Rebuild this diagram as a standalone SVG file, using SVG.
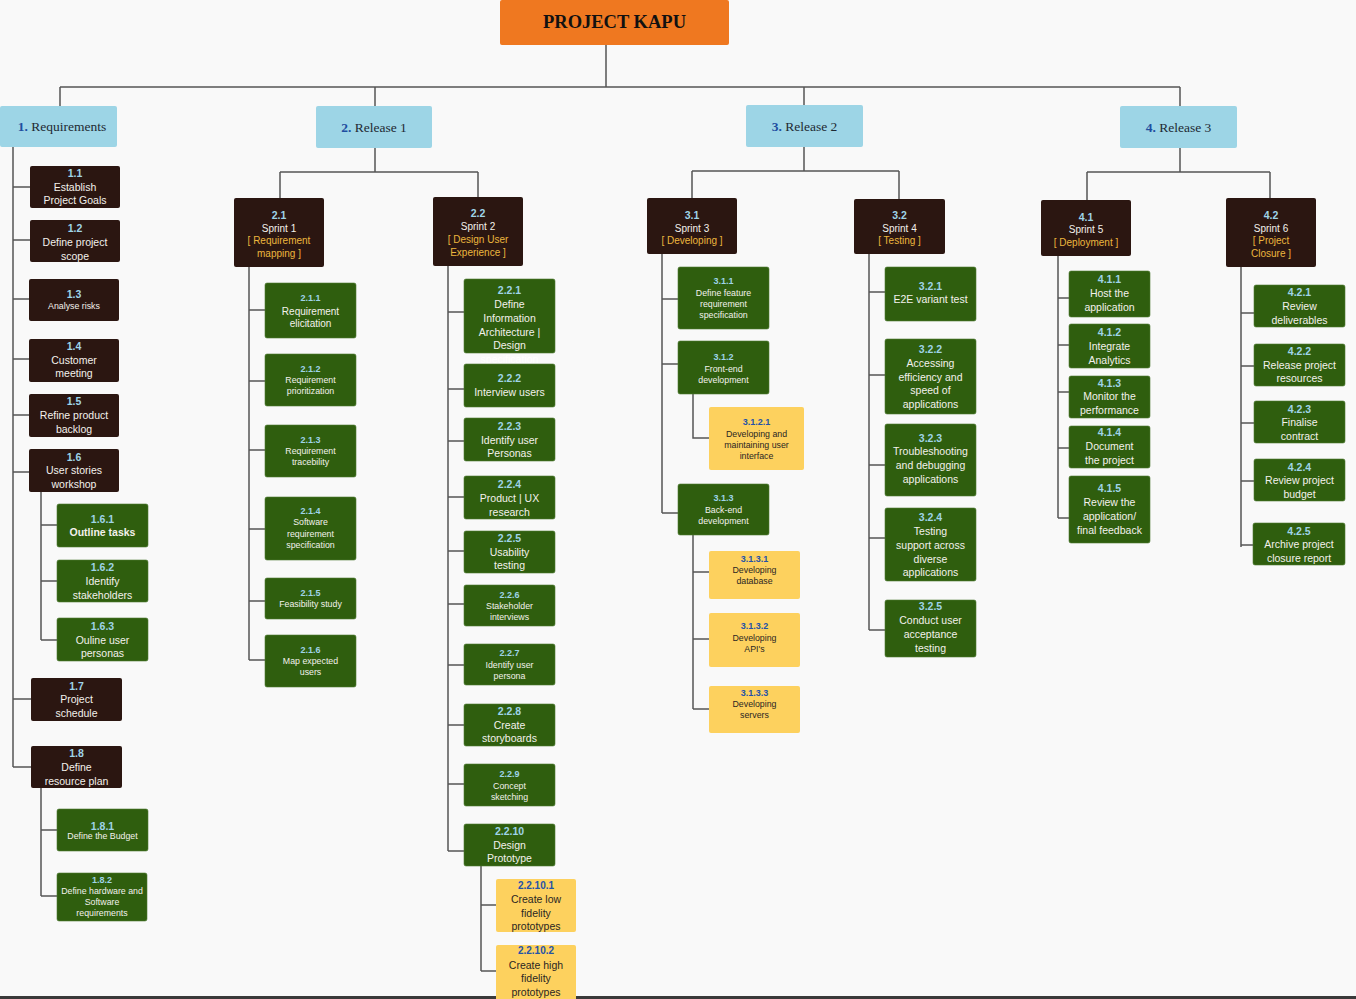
<svg xmlns="http://www.w3.org/2000/svg" width="1356" height="999" viewBox="0 0 1356 999">
<style>
text{font-family:"Liberation Sans",Arial,sans-serif;text-anchor:middle;dominant-baseline:central}
.dk{fill:#2b1611}
.gr{fill:#2f5e0e;stroke:#4d7a32;stroke-width:0.6}
.yl{fill:#fdd15e}
.rl{fill:#9dd5e6}
.nm{font-size:10.5px;font-weight:bold;fill:#9fd4e8}
.nms{font-size:9px;font-weight:bold;fill:#9fd4e8}
.tx{font-size:10.5px;fill:#f3f1ec}
.ts{font-size:8.8px;fill:#f3f1ec}
.br{font-size:10px;fill:#ebb73e}
.sp{font-size:10px;fill:#f3f1ec}
.yn{font-size:10px;font-weight:bold;fill:#2452a8}
.yns{font-size:9px;font-weight:bold;fill:#2452a8}
.yt{font-size:10.5px;fill:#2a2623}
.yts{font-size:8.8px;fill:#2a2623}
.rt{font-family:"Liberation Serif",serif;font-size:13.5px;fill:#1d2a33}
.rn{fill:#1f4ea0;font-weight:bold}
.cn{fill:none;stroke:#555;stroke-width:1.5}
</style>
<rect width="1356" height="999" fill="#f9f9f9"/>
<rect x="0" y="996" width="1356" height="3" fill="#3a3a3a"/>
<g id="connectors" class="cn">
<path d="M606,45V87M60,87H1180M60,87V106M375,87V106M804,87V105M1180,87V106"/>
<path d="M13,147V767M13,187H30M13,240H30M13,299H29M13,359H29M13,415H29M13,472H29M13,699H31M13,767H31"/>
<path d="M41,492V640M41,525H57M41,581H57M41,640H57M41,788V896M41,830H57M41,896H57"/>
<path d="M375,148V172M280,172H478M280,172V198M478,172V197"/>
<path d="M249,267V660M249,310H265M249,381H265M249,450H265M249,529H265M249,601H265M249,660H265"/>
<path d="M448,266V851M448,312H464M448,389H464M448,441H464M448,497H464M448,551H464M448,604H464M448,665H464M448,725H464M448,784H464M448,851H464"/>
<path d="M481,866V971M481,905H496M481,971H496"/>
<path d="M804,147V171M692,171H899M692,171V198M899,171V199"/>
<path d="M662,254V513M662,299H678M662,364H678M662,513H678M693,394V438H709M693,535V709M693,572H709M693,639H709M693,709H709"/>
<path d="M869,254V630M869,292H885M869,375H885M869,465H885M869,538H885M869,630H885"/>
<path d="M1180,148V172M1087,172H1270M1087,172V200M1270,172V198"/>
<path d="M1058,256V518M1058,298H1069M1058,345H1069M1058,392H1069M1058,448H1069M1058,518H1069"/>
<path d="M1241,267V547M1241,313H1254M1241,366H1254M1241,423H1254M1241,481H1254M1241,545H1254"/>
</g>
<g id="root"><rect x="500" y="0" width="229" height="45" rx="2" fill="#ef7820"/><text x="614.5" y="22" style="font-family:'Liberation Serif',serif;font-weight:bold;font-size:18.5px;fill:#111">PROJECT KAPU</text></g>
<g id="n1"><rect class="rl" x="0" y="106" width="117" height="41" rx="2"/><text class="rt" x="62" y="126"><tspan class="rn">1.</tspan> Requirements</text></g>
<g id="n2"><rect class="rl" x="316" y="106" width="116" height="42" rx="2"/><text class="rt" x="374" y="127"><tspan class="rn">2.</tspan> Release 1</text></g>
<g id="n3"><rect class="rl" x="746" y="105" width="117" height="42" rx="2"/><text class="rt" x="804.5" y="126"><tspan class="rn">3.</tspan> Release 2</text></g>
<g id="n4"><rect class="rl" x="1120" y="106" width="117" height="42" rx="2"/><text class="rt" x="1178.5" y="127"><tspan class="rn">4.</tspan> Release 3</text></g>

<g id="n1_1"><rect class="dk" x="30" y="166" width="90" height="42" rx="2"/><text class="nm" x="75" y="173">1.1</text><text class="tx" x="75" y="187">Establish</text><text class="tx" x="75" y="200">Project Goals</text></g>
<g id="n1_2"><rect class="dk" x="30" y="220" width="90" height="42" rx="2"/><text class="nm" x="75" y="228">1.2</text><text class="tx" x="75" y="242">Define project</text><text class="tx" x="75" y="256">scope</text></g>
<g id="n1_3"><rect class="dk" x="29" y="279" width="90" height="42" rx="2"/><text class="nm" x="74" y="294">1.3</text><text class="ts" x="74" y="306">Analyse risks</text></g>
<g id="n1_4"><rect class="dk" x="29" y="339" width="90" height="43" rx="2"/><text class="nm" x="74" y="346">1.4</text><text class="tx" x="74" y="360">Customer</text><text class="tx" x="74" y="373">meeting</text></g>
<g id="n1_5"><rect class="dk" x="29" y="394" width="90" height="43" rx="2"/><text class="nm" x="74" y="401">1.5</text><text class="tx" x="74" y="415">Refine product</text><text class="tx" x="74" y="429">backlog</text></g>
<g id="n1_6"><rect class="dk" x="29" y="449" width="90" height="43" rx="2"/><text class="nm" x="74" y="457">1.6</text><text class="tx" x="74" y="470">User stories</text><text class="tx" x="74" y="484">workshop</text></g>
<g id="n1_6_1"><rect class="gr" x="57" y="504" width="91" height="43" rx="2"/><text class="nm" x="102.5" y="519">1.6.1</text><text class="tx" x="102.5" y="532" font-weight="bold">Outline tasks</text></g>
<g id="n1_6_2"><rect class="gr" x="57" y="560" width="91" height="42" rx="2"/><text class="nm" x="102.5" y="567">1.6.2</text><text class="tx" x="102.5" y="581">Identify</text><text class="tx" x="102.5" y="595">stakeholders</text></g>
<g id="n1_6_3"><rect class="gr" x="57" y="618" width="91" height="43" rx="2"/><text class="nm" x="102.5" y="626">1.6.3</text><text class="tx" x="102.5" y="640">Ouline user</text><text class="tx" x="102.5" y="653">personas</text></g>
<g id="n1_7"><rect class="dk" x="31" y="678" width="91" height="43" rx="2"/><text class="nm" x="76.5" y="686">1.7</text><text class="tx" x="76.5" y="699">Project</text><text class="tx" x="76.5" y="713">schedule</text></g>
<g id="n1_8"><rect class="dk" x="31" y="746" width="91" height="42" rx="2"/><text class="nm" x="76.5" y="753">1.8</text><text class="tx" x="76.5" y="767">Define</text><text class="tx" x="76.5" y="781">resource plan</text></g>
<g id="n1_8_1"><rect class="gr" x="57" y="809" width="91" height="42" rx="2"/><text class="nm" x="102.5" y="826">1.8.1</text><text class="ts" x="102.5" y="836">Define the Budget</text></g>
<g id="n1_8_2"><rect class="gr" x="57" y="873" width="90" height="48" rx="2"/><text class="nms" x="102" y="880">1.8.2</text><text class="ts" x="102" y="891">Define hardware and</text><text class="ts" x="102" y="902">Software</text><text class="ts" x="102" y="913">requirements</text></g>

<g id="n2_1"><rect class="dk" x="234" y="198" width="90" height="69" rx="2"/><text class="nm" x="279" y="215">2.1</text><text class="sp" x="279" y="228">Sprint 1</text><text class="br" x="279" y="240">[ Requirement</text><text class="br" x="279" y="253">mapping ]</text></g>
<g id="n2_1_1"><rect class="gr" x="265" y="283" width="91" height="55" rx="2"/><text class="nms" x="310.5" y="298">2.1.1</text><text class="tx" x="310.5" y="311" style="font-size:10px">Requirement</text><text class="tx" x="310.5" y="323" style="font-size:10px">elicitation</text></g>
<g id="n2_1_2"><rect class="gr" x="265" y="354" width="91" height="52" rx="2"/><text class="nms" x="310.5" y="369">2.1.2</text><text class="ts" x="310.5" y="380">Requirement</text><text class="ts" x="310.5" y="391">prioritization</text></g>
<g id="n2_1_3"><rect class="gr" x="265" y="425" width="91" height="52" rx="2"/><text class="nms" x="310.5" y="440">2.1.3</text><text class="ts" x="310.5" y="451">Requirement</text><text class="ts" x="310.5" y="462">tracebility</text></g>
<g id="n2_1_4"><rect class="gr" x="265" y="497" width="91" height="63" rx="2"/><text class="nms" x="310.5" y="511">2.1.4</text><text class="ts" x="310.5" y="522">Software</text><text class="ts" x="310.5" y="534">requirement</text><text class="ts" x="310.5" y="545">specification</text></g>
<g id="n2_1_5"><rect class="gr" x="265" y="578" width="91" height="41" rx="2"/><text class="nms" x="310.5" y="593">2.1.5</text><text class="ts" x="310.5" y="604">Feasibility study</text></g>
<g id="n2_1_6"><rect class="gr" x="265" y="635" width="91" height="52" rx="2"/><text class="nms" x="310.5" y="650">2.1.6</text><text class="ts" x="310.5" y="661">Map expected</text><text class="ts" x="310.5" y="672">users</text></g>

<g id="n2_2"><rect class="dk" x="433" y="197" width="90" height="69" rx="2"/><text class="nm" x="478" y="213">2.2</text><text class="sp" x="478" y="226">Sprint 2</text><text class="br" x="478" y="239">[ Design User</text><text class="br" x="478" y="252">Experience ]</text></g>
<g id="n2_2_1"><rect class="gr" x="464" y="279" width="91" height="74" rx="2"/><text class="nm" x="509.5" y="290">2.2.1</text><text class="tx" x="509.5" y="304">Define</text><text class="tx" x="509.5" y="318">Information</text><text class="tx" x="509.5" y="332">Architecture |</text><text class="tx" x="509.5" y="345">Design</text><text class="tx" x="509.5" y="359" style="fill:#ffffff">specification</text></g>
<g id="n2_2_2"><rect class="gr" x="464" y="364" width="91" height="43" rx="2"/><text class="nm" x="509.5" y="378">2.2.2</text><text class="tx" x="509.5" y="392">Interview users</text></g>
<g id="n2_2_3"><rect class="gr" x="464" y="418" width="91" height="43" rx="2"/><text class="nm" x="509.5" y="426">2.2.3</text><text class="tx" x="509.5" y="440">Identify user</text><text class="tx" x="509.5" y="453">Personas</text></g>
<g id="n2_2_4"><rect class="gr" x="464" y="476" width="91" height="43" rx="2"/><text class="nm" x="509.5" y="484">2.2.4</text><text class="tx" x="509.5" y="498">Product | UX</text><text class="tx" x="509.5" y="512">research</text></g>
<g id="n2_2_5"><rect class="gr" x="464" y="531" width="91" height="42" rx="2"/><text class="nm" x="509.5" y="538">2.2.5</text><text class="tx" x="509.5" y="552">Usability</text><text class="tx" x="509.5" y="565">testing</text></g>
<g id="n2_2_6"><rect class="gr" x="464" y="585" width="91" height="41" rx="2"/><text class="nms" x="509.5" y="595">2.2.6</text><text class="ts" x="509.5" y="606">Stakeholder</text><text class="ts" x="509.5" y="617">interviews</text></g>
<g id="n2_2_7"><rect class="gr" x="464" y="644" width="91" height="41" rx="2"/><text class="nms" x="509.5" y="653">2.2.7</text><text class="ts" x="509.5" y="665">Identify user</text><text class="ts" x="509.5" y="676">persona</text></g>
<g id="n2_2_8"><rect class="gr" x="464" y="704" width="91" height="42" rx="2"/><text class="nm" x="509.5" y="711">2.2.8</text><text class="tx" x="509.5" y="725">Create</text><text class="tx" x="509.5" y="738">storyboards</text></g>
<g id="n2_2_9"><rect class="gr" x="464" y="764" width="91" height="42" rx="2"/><text class="nms" x="509.5" y="774">2.2.9</text><text class="ts" x="509.5" y="786">Concept</text><text class="ts" x="509.5" y="797">sketching</text></g>
<g id="n2_2_10"><rect class="gr" x="464" y="824" width="91" height="42" rx="2"/><text class="nm" x="509.5" y="831">2.2.10</text><text class="tx" x="509.5" y="845">Design</text><text class="tx" x="509.5" y="858">Prototype</text></g>
<g id="n2_2_10_1"><rect class="yl" x="496" y="879" width="80" height="53" rx="2"/><text class="yn" x="536" y="885">2.2.10.1</text><text class="yt" x="536" y="899">Create low</text><text class="yt" x="536" y="913">fidelity</text><text class="yt" x="536" y="926">prototypes</text></g>
<g id="n2_2_10_2"><rect class="yl" x="496" y="945" width="80" height="60" rx="2"/><text class="yn" x="536" y="950">2.2.10.2</text><text class="yt" x="536" y="965">Create high</text><text class="yt" x="536" y="978">fidelity</text><text class="yt" x="536" y="992">prototypes</text></g>

<g id="n3_1"><rect class="dk" x="647" y="198" width="90" height="56" rx="2"/><text class="nm" x="692" y="215">3.1</text><text class="sp" x="692" y="228">Sprint 3</text><text class="br" x="692" y="240">[ Developing ]</text></g>
<g id="n3_1_1"><rect class="gr" x="678" y="267" width="91" height="62" rx="2"/><text class="nms" x="723.5" y="281">3.1.1</text><text class="ts" x="723.5" y="293">Define feature</text><text class="ts" x="723.5" y="304">requirement</text><text class="ts" x="723.5" y="315">specification</text></g>
<g id="n3_1_2"><rect class="gr" x="678" y="341" width="91" height="53" rx="2"/><text class="nms" x="723.5" y="357">3.1.2</text><text class="ts" x="723.5" y="369">Front-end</text><text class="ts" x="723.5" y="380">development</text></g>
<g id="n3_1_2_1"><rect class="yl" x="709" y="407" width="95" height="63" rx="2"/><text class="yns" x="756.5" y="422">3.1.2.1</text><text class="yts" x="756.5" y="434">Developing and</text><text class="yts" x="756.5" y="445">maintaining user</text><text class="yts" x="756.5" y="456">interface</text></g>
<g id="n3_1_3"><rect class="gr" x="678" y="484" width="91" height="51" rx="2"/><text class="nms" x="723.5" y="498">3.1.3</text><text class="ts" x="723.5" y="510">Back-end</text><text class="ts" x="723.5" y="521">development</text></g>
<g id="n3_1_3_1"><rect class="yl" x="709" y="551" width="91" height="48" rx="2"/><text class="yns" x="754.5" y="559">3.1.3.1</text><text class="yts" x="754.5" y="570">Developing</text><text class="yts" x="754.5" y="581">database</text></g>
<g id="n3_1_3_2"><rect class="yl" x="709" y="613" width="91" height="54" rx="2"/><text class="yns" x="754.5" y="626">3.1.3.2</text><text class="yts" x="754.5" y="638">Developing</text><text class="yts" x="754.5" y="649">API's</text></g>
<g id="n3_1_3_3"><rect class="yl" x="709" y="686" width="91" height="47" rx="2"/><text class="yns" x="754.5" y="693">3.1.3.3</text><text class="yts" x="754.5" y="704">Developing</text><text class="yts" x="754.5" y="715">servers</text></g>

<g id="n3_2"><rect class="dk" x="854" y="199" width="91" height="55" rx="2"/><text class="nm" x="899.5" y="215">3.2</text><text class="sp" x="899.5" y="228">Sprint 4</text><text class="br" x="899.5" y="240">[ Testing ]</text></g>
<g id="n3_2_1"><rect class="gr" x="885" y="267" width="91" height="54" rx="2"/><text class="nm" x="930.5" y="286">3.2.1</text><text class="tx" x="930.5" y="299">E2E variant test</text></g>
<g id="n3_2_2"><rect class="gr" x="885" y="339" width="91" height="75" rx="2"/><text class="nm" x="930.5" y="349">3.2.2</text><text class="tx" x="930.5" y="363">Accessing</text><text class="tx" x="930.5" y="377">efficiency and</text><text class="tx" x="930.5" y="390">speed of</text><text class="tx" x="930.5" y="404">applications</text></g>
<g id="n3_2_3"><rect class="gr" x="885" y="424" width="91" height="72" rx="2"/><text class="nm" x="930.5" y="438">3.2.3</text><text class="tx" x="930.5" y="451">Troubleshooting</text><text class="tx" x="930.5" y="465">and debugging</text><text class="tx" x="930.5" y="479">applications</text></g>
<g id="n3_2_4"><rect class="gr" x="885" y="508" width="91" height="73" rx="2"/><text class="nm" x="930.5" y="517">3.2.4</text><text class="tx" x="930.5" y="531">Testing</text><text class="tx" x="930.5" y="545">support across</text><text class="tx" x="930.5" y="559">diverse</text><text class="tx" x="930.5" y="572">applications</text></g>
<g id="n3_2_5"><rect class="gr" x="885" y="600" width="91" height="57" rx="2"/><text class="nm" x="930.5" y="606">3.2.5</text><text class="tx" x="930.5" y="620">Conduct user</text><text class="tx" x="930.5" y="634">acceptance</text><text class="tx" x="930.5" y="648">testing</text></g>

<g id="n4_1"><rect class="dk" x="1041" y="200" width="90" height="56" rx="2"/><text class="nm" x="1086" y="217">4.1</text><text class="sp" x="1086" y="229">Sprint 5</text><text class="br" x="1086" y="242">[ Deployment ]</text></g>
<g id="n4_1_1"><rect class="gr" x="1069" y="271" width="81" height="46" rx="2"/><text class="nm" x="1109.5" y="279">4.1.1</text><text class="tx" x="1109.5" y="293">Host the</text><text class="tx" x="1109.5" y="307">application</text></g>
<g id="n4_1_2"><rect class="gr" x="1069" y="324" width="81" height="44" rx="2"/><text class="nm" x="1109.5" y="332">4.1.2</text><text class="tx" x="1109.5" y="346">Integrate</text><text class="tx" x="1109.5" y="360">Analytics</text></g>
<g id="n4_1_3"><rect class="gr" x="1069" y="376" width="81" height="42" rx="2"/><text class="nm" x="1109.5" y="383">4.1.3</text><text class="tx" x="1109.5" y="396">Monitor the</text><text class="tx" x="1109.5" y="410">performance</text></g>
<g id="n4_1_4"><rect class="gr" x="1069" y="426" width="81" height="42" rx="2"/><text class="nm" x="1109.5" y="432">4.1.4</text><text class="tx" x="1109.5" y="446">Document</text><text class="tx" x="1109.5" y="460">the project</text></g>
<g id="n4_1_5"><rect class="gr" x="1069" y="476" width="81" height="67" rx="2"/><text class="nm" x="1109.5" y="488">4.1.5</text><text class="tx" x="1109.5" y="502">Review the</text><text class="tx" x="1109.5" y="516">application/</text><text class="tx" x="1109.5" y="530">final feedback</text></g>

<g id="n4_2"><rect class="dk" x="1226" y="198" width="90" height="69" rx="2"/><text class="nm" x="1271" y="215">4.2</text><text class="sp" x="1271" y="228">Sprint 6</text><text class="br" x="1271" y="240">[ Project</text><text class="br" x="1271" y="253">Closure ]</text></g>
<g id="n4_2_1"><rect class="gr" x="1254" y="285" width="91" height="42" rx="2"/><text class="nm" x="1299.5" y="292">4.2.1</text><text class="tx" x="1299.5" y="306">Review</text><text class="tx" x="1299.5" y="320">deliverables</text></g>
<g id="n4_2_2"><rect class="gr" x="1254" y="344" width="91" height="42" rx="2"/><text class="nm" x="1299.5" y="351">4.2.2</text><text class="tx" x="1299.5" y="365">Release project</text><text class="tx" x="1299.5" y="378">resources</text></g>
<g id="n4_2_3"><rect class="gr" x="1254" y="401" width="91" height="42" rx="2"/><text class="nm" x="1299.5" y="409">4.2.3</text><text class="tx" x="1299.5" y="422">Finalise</text><text class="tx" x="1299.5" y="436">contract</text></g>
<g id="n4_2_4"><rect class="gr" x="1254" y="459" width="91" height="42" rx="2"/><text class="nm" x="1299.5" y="467">4.2.4</text><text class="tx" x="1299.5" y="480">Review project</text><text class="tx" x="1299.5" y="494">budget</text></g>
<g id="n4_2_5"><rect class="gr" x="1253" y="523" width="92" height="42" rx="2"/><text class="nm" x="1299" y="531">4.2.5</text><text class="tx" x="1299" y="544">Archive project</text><text class="tx" x="1299" y="558">closure report</text></g>
</svg>
